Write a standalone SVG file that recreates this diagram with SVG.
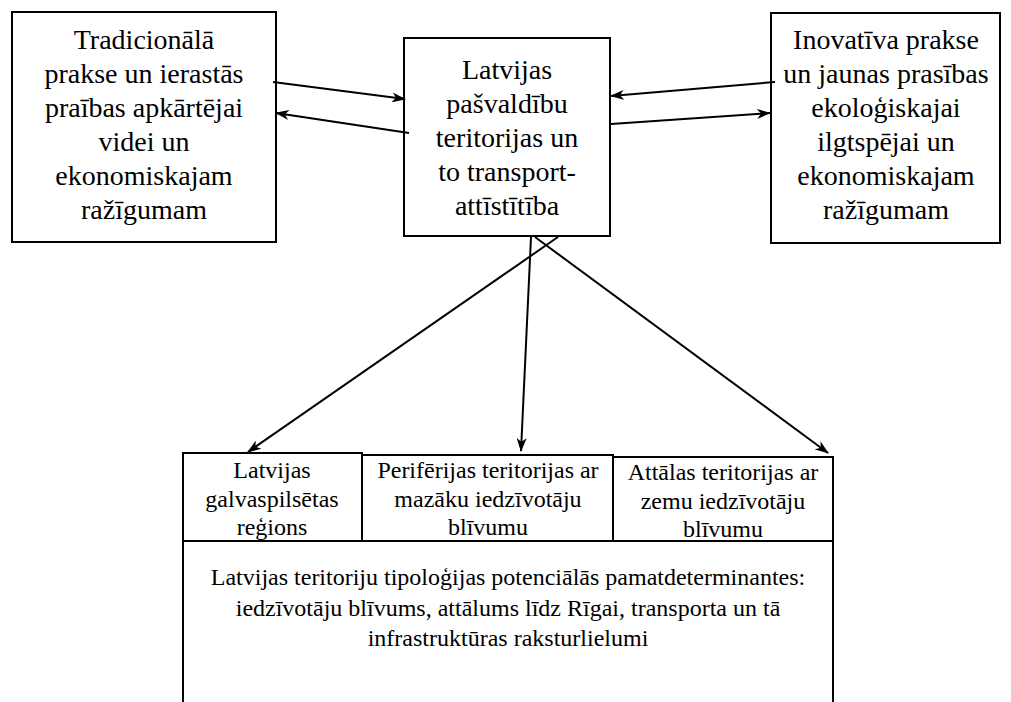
<svg xmlns="http://www.w3.org/2000/svg" width="1011" height="702" viewBox="0 0 1011 702">
<defs>
<marker id="ah" viewBox="0 0 14 10" refX="13" refY="5" markerWidth="14" markerHeight="10" markerUnits="userSpaceOnUse" orient="auto">
<path d="M0,0 L14,5 L0,10 L4,5 z" fill="#000"/>
</marker>
<style>
.box{fill:#fff;stroke:#000;stroke-width:2}
text{font-family:'Liberation Serif','Times New Roman',Times,serif;fill:#000;text-anchor:middle}
.t{font-size:28px}
.s{font-size:24px}
.c{stroke:#000;stroke-width:2;fill:none;marker-end:url(#ah)}
</style>
</defs>
<rect width="1011" height="702" fill="#fff"/>
<g id="node-traditional">
<rect class="box" x="12" y="12" width="264" height="230"/>
<text class="t" x="144" y="49">Tradicionālā</text>
<text class="t" x="144" y="83">prakse un ierastās</text>
<text class="t" x="144" y="117">praības apkārtējai</text>
<text class="t" x="144" y="151">videi un</text>
<text class="t" x="144" y="185">ekonomiskajam</text>
<text class="t" x="144" y="219">ražīgumam</text>
</g>
<g id="node-center">
<rect class="box" x="404" y="38" width="206" height="198"/>
<text class="t" x="507" y="79">Latvijas</text>
<text class="t" x="507" y="113">pašvaldību</text>
<text class="t" x="507" y="147">teritorijas un</text>
<text class="t" x="507" y="181">to transport-</text>
<text class="t" x="507" y="215">attīstītība</text>
</g>
<g id="node-innovative">
<rect class="box" x="771" y="13" width="229" height="230"/>
<text class="t" x="886" y="49">Inovatīva prakse</text>
<text class="t" x="886" y="83">un jaunas prasības</text>
<text class="t" x="886" y="117">ekoloģiskajai</text>
<text class="t" x="886" y="151">ilgtspējai un</text>
<text class="t" x="886" y="185">ekonomiskajam</text>
<text class="t" x="886" y="219">ražīgumam</text>
</g>
<g id="node-capital">
<rect class="box" x="183" y="453" width="179" height="88"/>
<text class="s" x="272" y="478">Latvijas</text>
<text class="s" x="272" y="507">galvaspilsētas</text>
<text class="s" x="272" y="535">reģions</text>
</g>
<g id="node-periphery">
<rect class="box" x="362" y="455" width="251" height="86"/>
<text class="s" x="488" y="478">Perifērijas teritorijas ar</text>
<text class="s" x="488" y="507">mazāku iedzīvotāju</text>
<text class="s" x="488" y="535">blīvumu</text>
</g>
<g id="node-remote">
<rect class="box" x="613" y="457" width="220" height="84"/>
<text class="s" x="723" y="480">Attālas teritorijas ar</text>
<text class="s" x="723" y="509">zemu iedzīvotāju</text>
<text class="s" x="723" y="537">blīvumu</text>
</g>
<g id="node-determinants">
<path class="box" d="M183,705 L183,541 L833,541 L833,705"/>
<text class="s" x="508" y="585">Latvijas teritoriju tipoloģijas potenciālās pamatdeterminantes:</text>
<text class="s" x="508" y="616">iedzīvotāju blīvums, attālums līdz Rīgai, transporta un tā</text>
<text class="s" x="508" y="646">infrastruktūras raksturlielumi</text>
</g>
<g id="connectors">
<line class="c" x1="273" y1="82" x2="405" y2="99"/>
<line class="c" x1="409" y1="133" x2="276" y2="113"/>
<line class="c" x1="775" y1="82" x2="611" y2="96"/>
<line class="c" x1="611" y1="124" x2="770" y2="113"/>
<line class="c" x1="558" y1="237" x2="248" y2="452"/>
<line class="c" x1="531" y1="237" x2="521" y2="451"/>
<line class="c" x1="535" y1="237" x2="828" y2="453"/>
</g>
</svg>
